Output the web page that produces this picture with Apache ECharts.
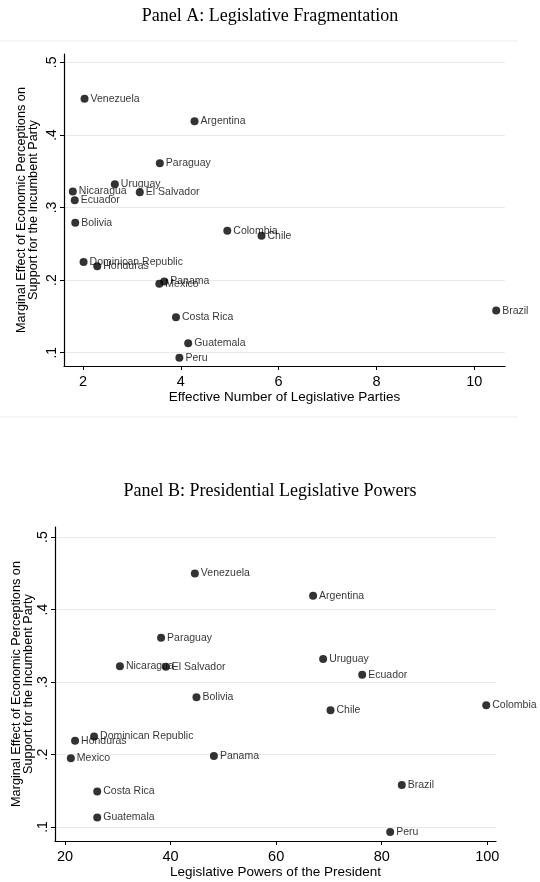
<!DOCTYPE html>
<html>
<head>
<meta charset="utf-8">
<script src="https://cdn.jsdelivr.net/npm/echarts@6/dist/echarts.min.js"></script>
<style>
  html, body { margin: 0; padding: 0; background: #fff; }
  #chart { width: 540px; height: 882px; }
</style>
</head>
<body>
<div id="chart"></div>
<script>
// values
const countries = [
  'Venezuela', 'Argentina', 'Paraguay', 'Uruguay', 'Nicaragua', 'El Salvador',
  'Ecuador', 'Bolivia', 'Colombia', 'Chile', 'Dominican Republic', 'Honduras',
  'Mexico', 'Panama', 'Costa Rica', 'Guatemala', 'Peru', 'Brazil'
]
const legislativeParties = [
  2.03, 4.28, 3.57, 2.65, 1.79, 3.16,
  1.83, 1.84, 4.95, 5.65, 2.01, 2.29,
  3.56, 3.66, 3.90, 4.15, 3.97, 10.45
]
const presidentialPowers = [
  44.6, 67.0, 38.2, 68.9, 30.4, 39.1,
  76.3, 44.9, 99.8, 70.3, 25.5, 21.9,
  21.1, 48.2, 26.1, 26.1, 81.6, 83.8
]
const marginalEffect = [
  0.450, 0.419, 0.361, 0.332, 0.322, 0.321,
  0.310, 0.279, 0.268, 0.261, 0.225, 0.219,
  0.195, 0.198, 0.149, 0.113, 0.093, 0.158
]
const yTicks = [0.1, 0.2, 0.3, 0.4, 0.5]
const xTicksA = [2, 4, 6, 8, 10]
const xTicksB = [20, 40, 60, 80, 100]

const yName = 'Marginal Effect of Economic Perceptions on\nSupport for the Incumbent Party'
const sans = 'Liberation Sans, Arial, sans-serif'
const serif = 'Liberation Serif, Times New Roman, serif'
const gridColor = '#e6ecee'

const makeX = (gridIndex, min, max, ticks, name) => ({
  type: 'value',
  gridIndex,
  min,
  max,
  name,
  nameLocation: 'middle',
  nameGap: 21,
  nameTextStyle: { fontFamily: sans, fontSize: 13.5, color: '#000' },
  axisLine: { show: true, onZero: false, lineStyle: { color: '#000', width: 1.2 } },
  axisTick: { show: true, length: 4, customValues: ticks, lineStyle: { color: '#000' } },
  axisLabel: { customValues: ticks, margin: 8, fontFamily: sans, fontSize: 14.5, color: '#000' },
  splitLine: { show: false },
})

const makeY = (gridIndex, min, max, gap) => ({
  type: 'value',
  gridIndex,
  min,
  max,
  name: yName,
  nameLocation: 'middle',
  nameGap: gap,
  nameMoveOverlap: false,
  nameTextStyle: { fontFamily: sans, fontSize: 12.7, color: '#000', lineHeight: 11.5 },
  axisLine: { show: true, onZero: false, lineStyle: { color: '#000', width: 1.2 } },
  axisTick: { show: true, length: 4, customValues: yTicks, lineStyle: { color: '#000' } },
  axisLabel: {
    customValues: yTicks,
    rotate: 90,
    margin: 5,
    fontFamily: sans,
    fontSize: 14,
    color: '#000',
    formatter: (v) => Number(v).toFixed(1).replace(/^0/, ''),
  },
  splitLine: { show: true, lineStyle: { color: gridColor, width: 1 } },
})

const makeSeries = (xAxisIndex, xs) => ({
  type: 'scatter',
  xAxisIndex,
  yAxisIndex: xAxisIndex,
  symbol: 'circle',
  symbolSize: 8,
  itemStyle: { color: '#000' },
  label: {
    show: true,
    position: 'right',
    distance: 2,
    formatter: '{b}',
    fontFamily: sans,
    fontSize: 10.5,
    color: '#000',
  },
  emphasis: { disabled: true },
  data: countries.map((name, i) => ({ name, value: [xs[i], marginalEffect[i]] })),
})

const chart = echarts.init(document.getElementById('chart'), null, { renderer: 'canvas' })
chart.setOption({
  animation: false,
  backgroundColor: '#fff',
  title: [
    { text: 'Panel A: Legislative Fragmentation', left: 'center', top: 2,
      textStyle: { fontFamily: serif, fontSize: 18, fontWeight: 'normal', color: '#000' } },
    { text: 'Panel B: Presidential Legislative Powers', left: 'center', top: 477,
      textStyle: { fontFamily: serif, fontSize: 18, fontWeight: 'normal', color: '#000' } },
  ],
  graphic: [
    { type: 'line', shape: { x1: 0, y1: 41, x2: 518, y2: 41 }, style: { stroke: '#e8eeee', lineWidth: 1 } },
    { type: 'line', shape: { x1: 0, y1: 417, x2: 518, y2: 417 }, style: { stroke: '#e8eeee', lineWidth: 1 } },
  ],
  grid: [
    { left: 64, top: 54, width: 441, height: 312 },
    { left: 55, top: 527, width: 441, height: 314 },
  ],
  xAxis: [
    makeX(0, 1.61, 10.63, xTicksA, 'Effective Number of Legislative Parties'),
    makeX(1, 18.1, 101.65, xTicksB, 'Legislative Powers of the President'),
  ],
  yAxis: [
    makeY(0, 0.0817, 0.5115, 25),
    makeY(1, 0.0807, 0.514, 21),
  ],
  series: [
    makeSeries(0, legislativeParties),
    makeSeries(1, presidentialPowers),
  ],
})
</script>
</body>
</html>
